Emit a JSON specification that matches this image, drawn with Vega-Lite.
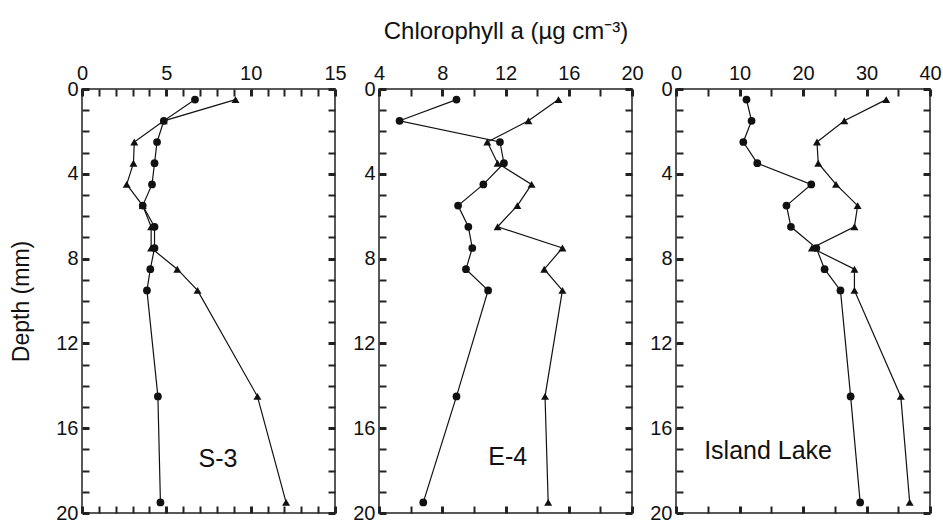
{
  "$schema": "https://vega.github.io/schema/vega-lite/v6.json",
  "background": "white",
  "padding": {"left": 10, "top": 18, "right": 5, "bottom": 3},
  "config": {
    "view": {"stroke": "#222", "strokeWidth": 1.5},
    "font": "Liberation Sans",
    "axis": {"domain": false, "grid": false, "labelFlush": false, "labelOverlap": false, "labelFont": "Liberation Sans", "labelFontSize": 20, "labelColor": "#111", "tickColor": "#222", "tickSize": 7, "offset": -7, "labelPadding": 5, "titleFont": "Liberation Sans", "titleFontWeight": "normal", "titleColor": "#111"}
  },
  "datasets": {
    "obs": [
      {"p": "S-3", "s": "circle", "d": 0.5, "v": 6.7},
      {"p": "S-3", "s": "circle", "d": 1.5, "v": 4.85},
      {"p": "S-3", "s": "circle", "d": 2.5, "v": 4.45},
      {"p": "S-3", "s": "circle", "d": 3.5, "v": 4.3},
      {"p": "S-3", "s": "circle", "d": 4.5, "v": 4.15},
      {"p": "S-3", "s": "circle", "d": 5.5, "v": 3.6},
      {"p": "S-3", "s": "circle", "d": 6.5, "v": 4.3},
      {"p": "S-3", "s": "circle", "d": 7.5, "v": 4.3},
      {"p": "S-3", "s": "circle", "d": 8.5, "v": 4.05},
      {"p": "S-3", "s": "circle", "d": 9.5, "v": 3.85},
      {"p": "S-3", "s": "circle", "d": 14.5, "v": 4.5},
      {"p": "S-3", "s": "circle", "d": 19.5, "v": 4.65},
      {"p": "S-3", "s": "triangle", "d": 0.5, "v": 9.1},
      {"p": "S-3", "s": "triangle", "d": 1.5, "v": 4.85},
      {"p": "S-3", "s": "triangle", "d": 2.5, "v": 3.1},
      {"p": "S-3", "s": "triangle", "d": 3.5, "v": 3.05},
      {"p": "S-3", "s": "triangle", "d": 4.5, "v": 2.65},
      {"p": "S-3", "s": "triangle", "d": 5.5, "v": 3.6},
      {"p": "S-3", "s": "triangle", "d": 6.5, "v": 4.1},
      {"p": "S-3", "s": "triangle", "d": 7.5, "v": 4.1},
      {"p": "S-3", "s": "triangle", "d": 8.5, "v": 5.65},
      {"p": "S-3", "s": "triangle", "d": 9.5, "v": 6.85},
      {"p": "S-3", "s": "triangle", "d": 14.5, "v": 10.4},
      {"p": "S-3", "s": "triangle", "d": 19.5, "v": 12.1},
      {"p": "E-4", "s": "circle", "d": 0.5, "v": 8.9},
      {"p": "E-4", "s": "circle", "d": 1.5, "v": 5.3},
      {"p": "E-4", "s": "circle", "d": 2.5, "v": 11.65},
      {"p": "E-4", "s": "circle", "d": 3.5, "v": 11.9},
      {"p": "E-4", "s": "circle", "d": 4.5, "v": 10.6},
      {"p": "E-4", "s": "circle", "d": 5.5, "v": 9.0},
      {"p": "E-4", "s": "circle", "d": 6.5, "v": 9.65},
      {"p": "E-4", "s": "circle", "d": 7.5, "v": 9.9},
      {"p": "E-4", "s": "circle", "d": 8.5, "v": 9.5},
      {"p": "E-4", "s": "circle", "d": 9.5, "v": 10.9},
      {"p": "E-4", "s": "circle", "d": 14.5, "v": 8.9},
      {"p": "E-4", "s": "circle", "d": 19.5, "v": 6.8},
      {"p": "E-4", "s": "triangle", "d": 0.5, "v": 15.35},
      {"p": "E-4", "s": "triangle", "d": 1.5, "v": 13.45},
      {"p": "E-4", "s": "triangle", "d": 2.5, "v": 10.85},
      {"p": "E-4", "s": "triangle", "d": 3.5, "v": 11.5},
      {"p": "E-4", "s": "triangle", "d": 4.5, "v": 13.65},
      {"p": "E-4", "s": "triangle", "d": 5.5, "v": 12.75},
      {"p": "E-4", "s": "triangle", "d": 6.5, "v": 11.5},
      {"p": "E-4", "s": "triangle", "d": 7.5, "v": 15.6},
      {"p": "E-4", "s": "triangle", "d": 8.5, "v": 14.45},
      {"p": "E-4", "s": "triangle", "d": 9.5, "v": 15.6},
      {"p": "E-4", "s": "triangle", "d": 14.5, "v": 14.5},
      {"p": "E-4", "s": "triangle", "d": 19.5, "v": 14.7},
      {"p": "Island Lake", "s": "circle", "d": 0.5, "v": 11.1},
      {"p": "Island Lake", "s": "circle", "d": 1.5, "v": 11.9},
      {"p": "Island Lake", "s": "circle", "d": 2.5, "v": 10.6},
      {"p": "Island Lake", "s": "circle", "d": 3.5, "v": 12.8},
      {"p": "Island Lake", "s": "circle", "d": 4.5, "v": 21.3},
      {"p": "Island Lake", "s": "circle", "d": 5.5, "v": 17.4},
      {"p": "Island Lake", "s": "circle", "d": 6.5, "v": 18.1},
      {"p": "Island Lake", "s": "circle", "d": 7.5, "v": 22.1},
      {"p": "Island Lake", "s": "circle", "d": 8.5, "v": 23.4},
      {"p": "Island Lake", "s": "circle", "d": 9.5, "v": 25.9},
      {"p": "Island Lake", "s": "circle", "d": 14.5, "v": 27.5},
      {"p": "Island Lake", "s": "circle", "d": 19.5, "v": 29.0},
      {"p": "Island Lake", "s": "triangle", "d": 0.5, "v": 33.1},
      {"p": "Island Lake", "s": "triangle", "d": 1.5, "v": 26.5},
      {"p": "Island Lake", "s": "triangle", "d": 2.5, "v": 22.2},
      {"p": "Island Lake", "s": "triangle", "d": 3.5, "v": 22.4},
      {"p": "Island Lake", "s": "triangle", "d": 4.5, "v": 25.2},
      {"p": "Island Lake", "s": "triangle", "d": 5.5, "v": 28.6},
      {"p": "Island Lake", "s": "triangle", "d": 6.5, "v": 28.1},
      {"p": "Island Lake", "s": "triangle", "d": 7.5, "v": 21.4},
      {"p": "Island Lake", "s": "triangle", "d": 8.5, "v": 28.1},
      {"p": "Island Lake", "s": "triangle", "d": 9.5, "v": 28.1},
      {"p": "Island Lake", "s": "triangle", "d": 14.5, "v": 35.4},
      {"p": "Island Lake", "s": "triangle", "d": 19.5, "v": 36.8}
    ],
    "labels": [
      {"p": "S-3", "t": "S-3", "v": 8.06, "d": 17.45},
      {"p": "E-4", "t": "E-4", "v": 12.14, "d": 17.36},
      {"p": "Island Lake", "t": "Island Lake", "v": 14.5, "d": 17.06}
    ]
  },
  "bounds": "flush",
  "spacing": 44,
  "resolve": {"scale": {"x": "independent", "y": "independent", "shape": "independent", "size": "independent"}},
  "hconcat": [
    {
      "width": 253, "height": 424,
      "resolve": {"axis": {"x": "independent", "y": "independent"}},
      "layer": [
        {
          "data": {"name": "obs"},
          "transform": [{"filter": "datum.p === 'S-3'"}],
          "mark": {"type": "line", "color": "#111", "strokeWidth": 1.2},
          "encoding": {
            "x": {"field": "v", "type": "quantitative", "scale": {"domain": [0, 15], "nice": false, "zero": false},
              "axis": {"orient": "top", "title": null, "labelPadding": 6, "values": [0,1,2,3,4,5,6,7,8,9,10,11,12,13,14,15], "labelExpr": "datum.value % 5 === 0 ? datum.label : ''", "tickWidth": {"condition": {"test": "datum.value % 5 === 0", "value": 3}, "value": 2}}},
            "y": {"field": "d", "type": "quantitative", "scale": {"domain": [0, 20], "reverse": true, "nice": false, "zero": false},
              "axis": {"orient": "left", "title": "Depth (mm)", "titleFontSize": 23, "titlePadding": 22, "labelPadding": 4, "values": [0,1,2,3,4,5,6,7,8,9,10,11,12,13,14,15,16,17,18,19,20], "labelExpr": "datum.value % 4 === 0 ? datum.label : ''", "tickWidth": {"condition": {"test": "datum.value % 4 === 0", "value": 3}, "value": 2}}},
            "detail": {"field": "s"},
            "order": {"field": "d", "type": "quantitative"}
          }
        },
        {
          "data": {"name": "obs"},
          "transform": [{"filter": "datum.p === 'S-3'"}],
          "mark": {"type": "point", "filled": true, "color": "#111", "opacity": 1},
          "encoding": {
            "x": {"field": "v", "type": "quantitative",
              "axis": {"orient": "bottom", "title": null, "labels": false, "values": [0,1,2,3,4,5,6,7,8,9,10,11,12,13,14,15], "tickWidth": {"condition": {"test": "datum.value % 5 === 0", "value": 3}, "value": 2}}},
            "y": {"field": "d", "type": "quantitative",
              "axis": {"orient": "right", "title": null, "labels": false, "values": [0,1,2,3,4,5,6,7,8,9,10,11,12,13,14,15,16,17,18,19,20], "tickWidth": {"condition": {"test": "datum.value % 4 === 0", "value": 3}, "value": 2}}},
            "shape": {"field": "s", "type": "nominal", "scale": {"domain": ["circle", "triangle"], "range": ["circle", "triangle-up"]}, "legend": null},
            "size": {"field": "s", "type": "nominal", "scale": {"domain": ["circle", "triangle"], "range": [60, 64]}, "legend": null}
          }
        },
        {
          "data": {"name": "labels"},
          "transform": [{"filter": "datum.p === 'S-3'"}],
          "mark": {"type": "text", "fontSize": 25, "color": "#111", "font": "Liberation Sans", "align": "center", "baseline": "middle"},
          "encoding": {
            "x": {"field": "v", "type": "quantitative", "axis": null},
            "y": {"field": "d", "type": "quantitative", "axis": null},
            "text": {"field": "t"}
          }
        }
      ]
    },
    {
      "width": 253, "height": 424,
      "resolve": {"axis": {"x": "independent", "y": "independent"}},
      "layer": [
        {
          "data": {"name": "obs"},
          "transform": [{"filter": "datum.p === 'E-4'"}],
          "mark": {"type": "line", "color": "#111", "strokeWidth": 1.2},
          "encoding": {
            "x": {"field": "v", "type": "quantitative", "scale": {"domain": [4, 20], "nice": false, "zero": false},
              "axis": {"orient": "top", "title": "Chlorophyll a (µg cm⁻³)", "titleFontSize": 24, "titlePadding": 20, "labelPadding": 6, "values": [4,6,8,10,12,14,16,18,20], "labelExpr": "datum.value % 4 === 0 ? datum.label : ''", "tickWidth": {"condition": {"test": "datum.value % 4 === 0", "value": 3}, "value": 2}}},
            "y": {"field": "d", "type": "quantitative", "scale": {"domain": [0, 20], "reverse": true, "nice": false, "zero": false},
              "axis": {"orient": "left", "title": null, "labelPadding": 4, "values": [0,1,2,3,4,5,6,7,8,9,10,11,12,13,14,15,16,17,18,19,20], "labelExpr": "datum.value % 4 === 0 ? datum.label : ''", "tickWidth": {"condition": {"test": "datum.value % 4 === 0", "value": 3}, "value": 2}}},
            "detail": {"field": "s"},
            "order": {"field": "d", "type": "quantitative"}
          }
        },
        {
          "data": {"name": "obs"},
          "transform": [{"filter": "datum.p === 'E-4'"}],
          "mark": {"type": "point", "filled": true, "color": "#111", "opacity": 1},
          "encoding": {
            "x": {"field": "v", "type": "quantitative",
              "axis": {"orient": "bottom", "title": null, "labels": false, "values": [4,6,8,10,12,14,16,18,20], "tickWidth": {"condition": {"test": "datum.value % 4 === 0", "value": 3}, "value": 2}}},
            "y": {"field": "d", "type": "quantitative",
              "axis": {"orient": "right", "title": null, "labels": false, "values": [0,1,2,3,4,5,6,7,8,9,10,11,12,13,14,15,16,17,18,19,20], "tickWidth": {"condition": {"test": "datum.value % 4 === 0", "value": 3}, "value": 2}}},
            "shape": {"field": "s", "type": "nominal", "scale": {"domain": ["circle", "triangle"], "range": ["circle", "triangle-up"]}, "legend": null},
            "size": {"field": "s", "type": "nominal", "scale": {"domain": ["circle", "triangle"], "range": [60, 64]}, "legend": null}
          }
        },
        {
          "data": {"name": "labels"},
          "transform": [{"filter": "datum.p === 'E-4'"}],
          "mark": {"type": "text", "fontSize": 25, "color": "#111", "font": "Liberation Sans", "align": "center", "baseline": "middle"},
          "encoding": {
            "x": {"field": "v", "type": "quantitative", "axis": null},
            "y": {"field": "d", "type": "quantitative", "axis": null},
            "text": {"field": "t"}
          }
        }
      ]
    },
    {
      "width": 254, "height": 424,
      "resolve": {"axis": {"x": "independent", "y": "independent"}},
      "layer": [
        {
          "data": {"name": "obs"},
          "transform": [{"filter": "datum.p === 'Island Lake'"}],
          "mark": {"type": "line", "color": "#111", "strokeWidth": 1.2},
          "encoding": {
            "x": {"field": "v", "type": "quantitative", "scale": {"domain": [0, 40], "nice": false, "zero": false},
              "axis": {"orient": "top", "title": null, "labelPadding": 6, "values": [0,5,10,15,20,25,30,35,40], "labelExpr": "datum.value % 10 === 0 ? datum.label : ''", "tickWidth": {"condition": {"test": "datum.value % 10 === 0", "value": 3}, "value": 2}}},
            "y": {"field": "d", "type": "quantitative", "scale": {"domain": [0, 20], "reverse": true, "nice": false, "zero": false},
              "axis": {"orient": "left", "title": null, "labelPadding": 4, "values": [0,1,2,3,4,5,6,7,8,9,10,11,12,13,14,15,16,17,18,19,20], "labelExpr": "datum.value % 4 === 0 ? datum.label : ''", "tickWidth": {"condition": {"test": "datum.value % 4 === 0", "value": 3}, "value": 2}}},
            "detail": {"field": "s"},
            "order": {"field": "d", "type": "quantitative"}
          }
        },
        {
          "data": {"name": "obs"},
          "transform": [{"filter": "datum.p === 'Island Lake'"}],
          "mark": {"type": "point", "filled": true, "color": "#111", "opacity": 1},
          "encoding": {
            "x": {"field": "v", "type": "quantitative",
              "axis": {"orient": "bottom", "title": null, "labels": false, "values": [0,5,10,15,20,25,30,35,40], "tickWidth": {"condition": {"test": "datum.value % 10 === 0", "value": 3}, "value": 2}}},
            "y": {"field": "d", "type": "quantitative",
              "axis": {"orient": "right", "title": null, "labels": false, "values": [0,1,2,3,4,5,6,7,8,9,10,11,12,13,14,15,16,17,18,19,20], "tickWidth": {"condition": {"test": "datum.value % 4 === 0", "value": 3}, "value": 2}}},
            "shape": {"field": "s", "type": "nominal", "scale": {"domain": ["circle", "triangle"], "range": ["circle", "triangle-up"]}, "legend": null},
            "size": {"field": "s", "type": "nominal", "scale": {"domain": ["circle", "triangle"], "range": [60, 64]}, "legend": null}
          }
        },
        {
          "data": {"name": "labels"},
          "transform": [{"filter": "datum.p === 'Island Lake'"}],
          "mark": {"type": "text", "fontSize": 25, "color": "#111", "font": "Liberation Sans", "align": "center", "baseline": "middle"},
          "encoding": {
            "x": {"field": "v", "type": "quantitative", "axis": null},
            "y": {"field": "d", "type": "quantitative", "axis": null},
            "text": {"field": "t"}
          }
        }
      ]
    }
  ]
}
